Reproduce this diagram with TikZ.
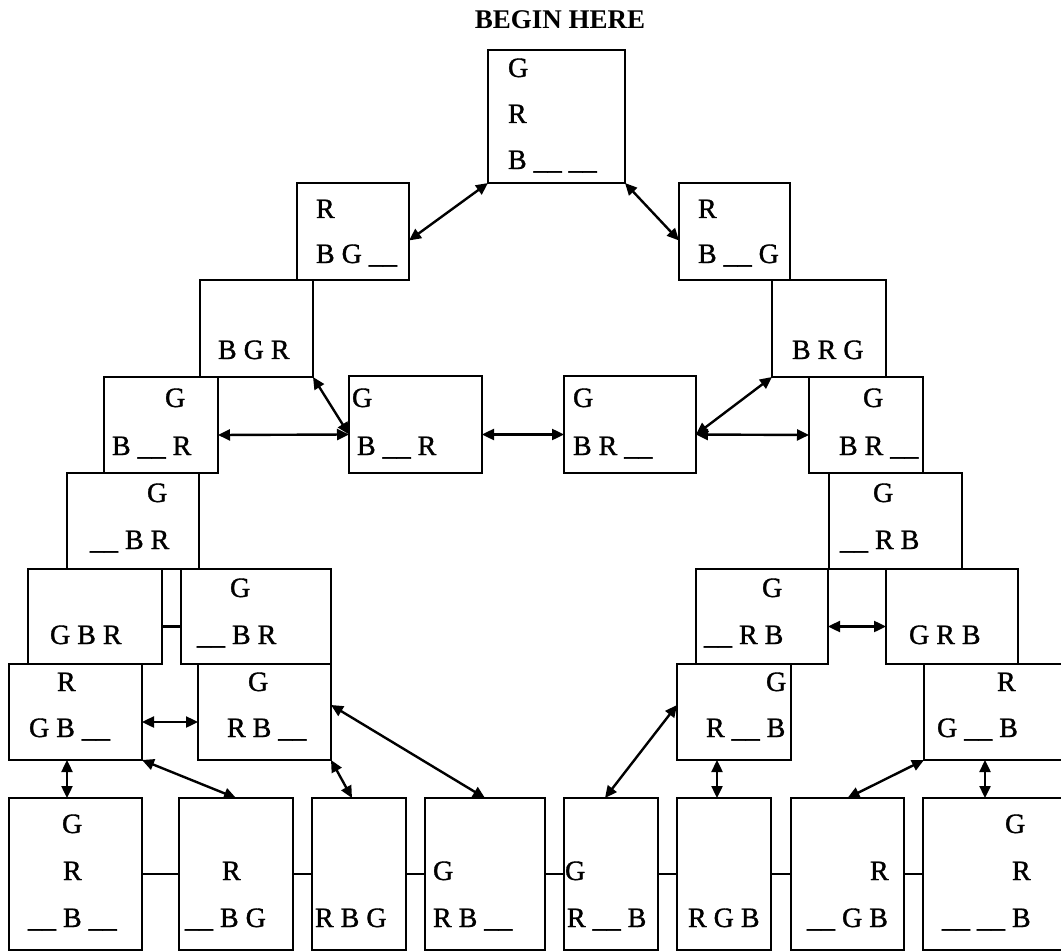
\documentclass[tikz,border=0pt]{standalone}
\usepackage{fontspec}
\setmainfont{Liberation Serif}
\newfontfamily\boxfont{Liberation Serif}[FakeBold=1.2]
\usetikzlibrary{arrows.meta}
\newcommand\mkbox[5]{%
  \pgfmathsetmacro\myBW{#4-#2}\pgfmathsetmacro\myBH{#5-#3}%
  \pgfmathsetmacro\myCX{(#2+#4)/2}\pgfmathsetmacro\myCY{(#3+#5)/2}%
  \node[bx,minimum width=\myBW pt,minimum height=\myBH pt] (#1) at (\myCX,\myCY) {};}
\newcommand\tx[4]{\node[txt] (#1) at (#2,#3) {#4};}
\begin{document}
\begin{tikzpicture}[x=1pt,y=-1pt,
  bx/.style={draw,line width=2pt,inner sep=0pt,outer sep=0pt},
  txt/.style={anchor=base west,inner sep=0pt,outer sep=0pt,font=\boxfont\fontsize{28}{34}\selectfont},
  arr/.style={line width=2.4pt,{Triangle[length=12pt,width=11pt]}-{Triangle[length=12pt,width=11pt]}},
  lnk/.style={line width=2.2pt}]
\useasboundingbox (0,0) rectangle (1061,952);
\clip (0,0) rectangle (1061,952);
\node[anchor=base,inner sep=0pt,font=\fontsize{27}{30}\selectfont\bfseries] (title) at (560,29) {BEGIN HERE};
% boxes
\mkbox{top}{488}{50}{625}{183}
\mkbox{lA}{297}{183}{409}{280}
\mkbox{rA}{679}{183}{790}{280}
\mkbox{lB}{200}{280}{313}{377}
\mkbox{rB}{772}{280}{886}{377}
\mkbox{lC}{104}{377}{218}{473}
\mkbox{mL}{349}{376}{482}{473}
\mkbox{mR}{564}{376}{696}{473}
\mkbox{rC}{809}{377}{923}{473}
\mkbox{lD}{67}{473}{199}{569}
\mkbox{rD}{829}{473}{962}{569}
\mkbox{lEa}{28}{569}{162}{664}
\mkbox{lEb}{181}{569}{331}{664}
\mkbox{rEa}{696}{569}{828}{664}
\mkbox{rEb}{886}{569}{1018}{664}
\mkbox{lFa}{9}{664}{142}{760}
\mkbox{lFb}{198}{664}{331}{760}
\mkbox{rFa}{677}{664}{791}{760}
\mkbox{rFb}{924}{664}{1075}{760}
\mkbox{bA}{9}{798}{142}{950}
\mkbox{bB}{179}{798}{293}{950}
\mkbox{bC}{312}{798}{406}{950}
\mkbox{bD}{425}{798}{545}{950}
\mkbox{bE}{564}{798}{658}{950}
\mkbox{bF}{677}{798}{771}{950}
\mkbox{bG}{791}{798}{904}{950}
\mkbox{bH}{923}{798}{1075}{950}
% texts
\tx{t1}{508}{77}{G}\tx{t2}{508}{123}{R}\tx{t3}{508}{169}{B \_\_ \_\_}
\tx{a1}{316}{218}{R}\tx{a2}{316}{263}{B G \_\_}
\tx{a3}{698}{218}{R}\tx{a4}{698}{263}{B \_\_ G}
\tx{b1}{218}{359}{B G R}
\tx{b2}{792}{359}{B R G}
\tx{c1}{165}{407}{G}\tx{c2}{112}{455}{B \_\_ R}
\tx{c3}{352}{407}{G}\tx{c4}{357}{455}{B \_\_ R}
\tx{c5}{573}{407}{G}\tx{c6}{573}{455}{B R \_\_}
\tx{c7}{863}{407}{G}\tx{c8}{839}{455}{B R \_\_}
\tx{d1}{147}{502}{G}\tx{d2}{90}{549}{\_\_ B R}
\tx{d3}{873}{502}{G}\tx{d4}{840}{549}{\_\_ R B}
\tx{e1}{50}{644}{G B R}
\tx{e2}{230}{597}{G}\tx{e3}{197}{644}{\_\_ B R}
\tx{e4}{762}{597}{G}\tx{e5}{704}{644}{\_\_ R B}
\tx{e6}{909}{644}{G R B}
\tx{f1}{57}{691}{R}\tx{f2}{29}{737}{G B \_\_}
\tx{f3}{248}{691}{G}\tx{f4}{227}{737}{R B \_\_}
\tx{f5}{766}{691}{G}\tx{f6}{706}{737}{R \_\_ B}
\tx{f7}{997}{691}{R}\tx{f8}{937}{737}{G \_\_ B}
\tx{g1}{62}{833}{G}\tx{g2}{63}{880}{R}\tx{g3}{28}{927}{\_\_ B \_\_}
\tx{g4}{222}{880}{R}\tx{g5}{185}{927}{\_\_ B G}
\tx{g6}{315}{927}{R B G}
\tx{g7}{433}{880}{G}\tx{g8}{433}{927}{R B \_\_}
\tx{g9}{565}{880}{G}\tx{g10}{567}{927}{R \_\_ B}
\tx{g11}{688}{927}{R G B}
\tx{g12}{870}{880}{R}\tx{g13}{807}{927}{\_\_ G B}
\tx{g14}{1005}{833}{G}\tx{g15}{1012}{880}{R}\tx{g16}{942}{927}{\_\_ \_\_ B}
% arrows
\draw[arr] (top.south west) -- ([yshift=-9pt]lA.east);
\draw[arr] (top.south east) -- ([yshift=-9pt]rA.west);
\draw[arr] (lB.south east) -- ([yshift=-10pt]mL.west);
\draw[arr] ([yshift=-10pt]lC.east) -- ([yshift=-10pt]mL.west);
\draw[arr] ([yshift=-10pt]mL.east) -- ([yshift=-10pt]mR.west);
\draw[arr] ([yshift=-10pt]mR.east) -- (rB.south west);
\draw[arr] ([yshift=-10pt]mR.east) -- ([yshift=-10pt]rC.west);
\draw[arr] ([yshift=-10pt]rEa.east) -- ([yshift=-10pt]rEb.west);
\draw[arr] ([yshift=-10pt]lFa.east) -- ([yshift=-10pt]lFb.west);
\draw[arr] ([xshift=58pt]lFa.south west) -- ([xshift=58pt]bA.north west);
\draw[arr] (lFa.south east) -- (bB.north);
\draw[arr] (lFb.south east) -- ([xshift=-7pt]bC.north);
\draw[arr] ([yshift=7pt]lFb.east) -- (bD.north);
\draw[arr] ([yshift=7pt]rFa.west) -- ([xshift=-6pt]bE.north);
\draw[arr] ([xshift=40pt]rFa.south west) -- ([xshift=40pt]bF.north west);
\draw[arr] (rFb.south west) -- (bG.north);
\draw[arr] ([xshift=61pt]rFb.south west) -- ([xshift=62pt]bH.north west);
% plain links
\draw[lnk] ([yshift=-10pt]lEa.east) -- ([yshift=-10pt]lEb.west);
\draw[lnk] (bA.east) -- (bB.west);
\draw[lnk] (bB.east) -- (bC.west);
\draw[lnk] (bC.east) -- (bD.west);
\draw[lnk] (bD.east) -- (bE.west);
\draw[lnk] (bE.east) -- (bF.west);
\draw[lnk] (bF.east) -- (bG.west);
\draw[lnk] (bG.east) -- (bH.west);
\end{tikzpicture}
\end{document}
